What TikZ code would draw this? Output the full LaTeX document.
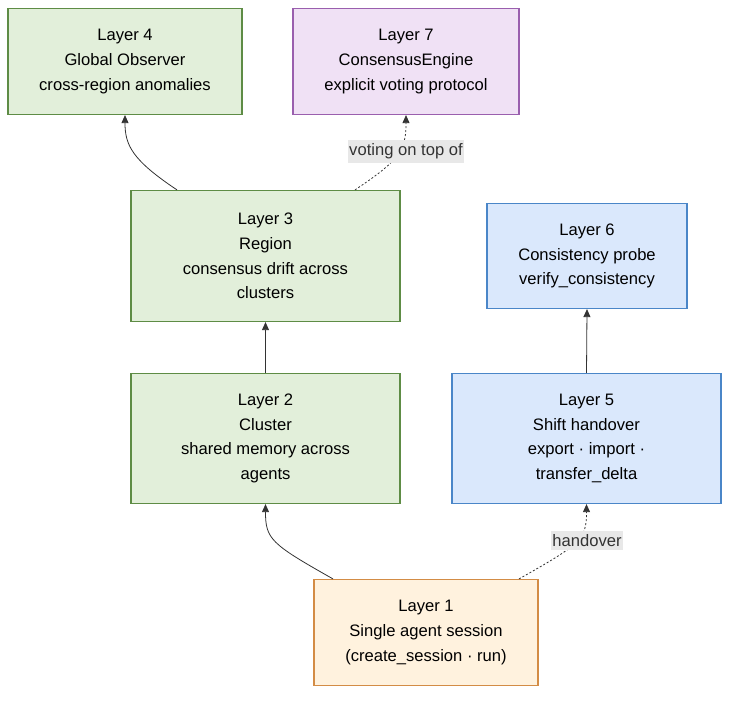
\documentclass[tikz,border=0pt]{standalone}
\usepackage{fontspec}
\setmainfont{Liberation Sans}
\usetikzlibrary{arrows.meta}
\definecolor{gfill}{HTML}{E2EFDA}
\definecolor{gline}{HTML}{5E8C45}
\definecolor{pfill}{HTML}{F0E1F5}
\definecolor{pline}{HTML}{9A5FAE}
\definecolor{bfill}{HTML}{DAE8FC}
\definecolor{bline}{HTML}{4A86C8}
\definecolor{ofill}{HTML}{FFF2DE}
\definecolor{oline}{HTML}{D38C45}
\definecolor{edge}{HTML}{333333}
\definecolor{lblbg}{HTML}{E8E8E8}
\tikzset{
  box/.style={draw, line width=1.2pt, inner sep=0pt, align=center,
    font=\fontsize{16.6}{24.8}\selectfont, text=black},
  green/.style={box, fill=gfill, draw=gline},
  purple/.style={box, fill=pfill, draw=pline},
  blue/.style={box, fill=bfill, draw=bline},
  orange/.style={box, fill=ofill, draw=oline},
  conn/.style={draw=edge, line width=0.8pt, -{Triangle[length=8pt,width=7pt]}},
  dconn/.style={conn, dash pattern=on 2pt off 2pt},
  lbl/.style={fill=lblbg, text=edge, font=\fontsize{16.6}{19}\selectfont, inner xsep=1.5pt, inner ysep=3.5pt}
}
\begin{document}
\begin{tikzpicture}[x=1pt,y=-1pt]
\useasboundingbox (0,0) rectangle (738,701);
\node[green, minimum width=234pt, minimum height=106pt] (l4) at (125,61.5) {Layer 4\\Global Observer\\cross-region anomalies};
\node[purple, minimum width=226pt, minimum height=106pt] (l7) at (406,61.5) {Layer 7\\ConsensusEngine\\explicit voting protocol};
\node[green, minimum width=269pt, minimum height=131pt] (l3) at (265.5,256) {Layer 3\\Region\\consensus drift across\\clusters};
\node[blue, minimum width=200pt, minimum height=105pt] (l6) at (587,256) {Layer 6\\Consistency probe\\verify\_consistency};
\node[green, minimum width=269pt, minimum height=130pt] (l2) at (265.5,438.5) {Layer 2\\Cluster\\shared memory across\\agents};
\node[blue, minimum width=269pt, minimum height=130pt] (l5) at (586.5,438.5) {Layer 5\\Shift handover\\export · import ·\\transfer\_delta};
\node[orange, minimum width=224pt, minimum height=106pt] (l1) at (426,632.5) {Layer 1\\Single agent session\\(create\_session · run)};

% edges
\draw[conn] ([xshift=-88.5pt]l3.north) .. controls +(-45,-30) and +(0,30) .. (l4.south);
\draw[dconn] ([xshift=89.5pt]l3.north) .. controls +(45,-30) and +(0,35) .. (l7.south);
\node[lbl] (lv) at (406,151.5) {voting on top of};
\draw[conn] (l2.north) -- (l3.south);
\draw[conn] (l5.north) -- (l6.south);
\draw[conn] ([xshift=-93pt]l1.north) .. controls +(-62,-35) and +(0,35) .. (l2.south);
\draw[dconn] ([xshift=93pt]l1.north) .. controls +(62,-35) and +(0,35) .. (l5.south);
\node[lbl] (lh) at (587,540.5) {handover};
\end{tikzpicture}
\end{document}
